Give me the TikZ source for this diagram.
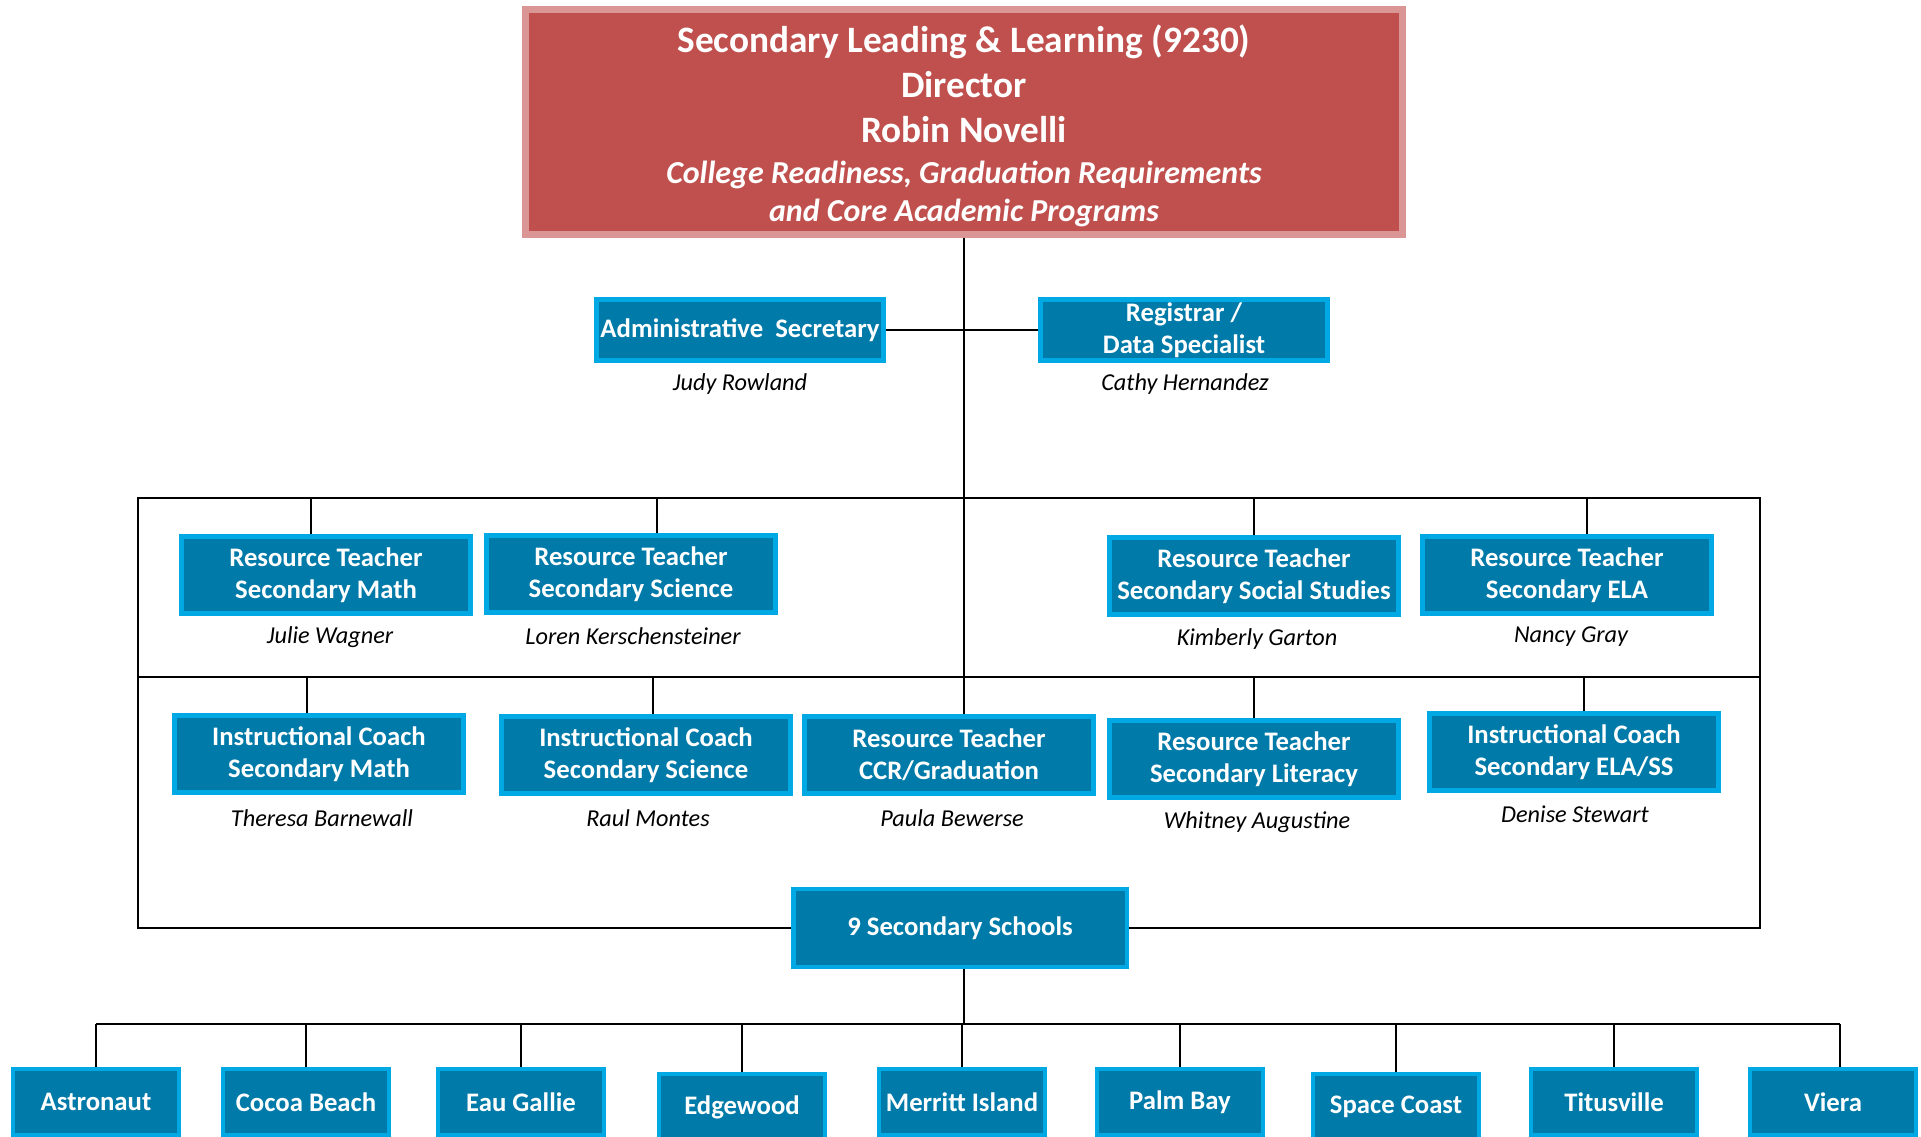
\documentclass[tikz,border=0pt]{standalone}
\usepackage{fontspec}
\setmainfont{Carlito}
\definecolor{dirred}{HTML}{C0504D}
\definecolor{dirrim}{HTML}{D99694}
\definecolor{rolefill}{HTML}{007AA8}
\definecolor{rolerim}{HTML}{00A8E4}
\begin{document}
\begin{tikzpicture}[x=0.01cm, y=-0.01cm,
  dirbox/.style={draw=dirrim, fill=dirred, line width=2pt, rectangle, minimum width=8.77cm,
                 minimum height=2.24cm, inner sep=0pt},
  dirtext/.style={align=center, text=white, inner sep=0pt,
                  font=\bfseries\fontsize{10.6}{12.8}\selectfont},
  rolebox/.style={draw=rolerim, fill=rolefill, line width=1.2pt, rectangle, minimum width=2.89cm,
                  minimum height=0.77cm, align=center, text=white, inner sep=0pt,
                  font=\bfseries\fontsize{7.6}{9.1}\selectfont},
  staffbox/.style={rolebox, minimum width=2.87cm, minimum height=0.61cm},
  hubbox/.style={rolebox, minimum width=3.33cm, minimum height=0.78cm},
  schoolbox/.style={rolebox, minimum width=1.66cm, minimum height=0.66cm},
  person/.style={font=\itshape\fontsize{6.9}{8.5}\selectfont},
  orgline/.style={-, line width=0.8pt, black}
]
\useasboundingbox (0,0) rectangle (1921,1137);

\node[dirbox] (dir) at (964,122) {};
\node[dirtext] (dirtitle) at (964,126) {Secondary Leading \& Learning (9230)\\ Director\\ Robin Novelli\\[-1pt]
  {\itshape\fontsize{9.1}{11}\selectfont College Readiness, Graduation Requirements}\\[-2pt]
  {\itshape\fontsize{9.1}{11}\selectfont and Core Academic Programs}};

\node[staffbox] (sec) at (740,330) {Administrative\ \ Secretary};
\node[staffbox] (reg) at (1184,330) {Registrar /\\ Data Specialist};
\node[person] (judy) at (740,384) {Judy Rowland};
\node[person] (cathy) at (1185,384) {Cathy Hernandez};

\coordinate (ftl) at (138,498);
\coordinate (ftr) at (1760,498);
\coordinate (fml) at (138,677);
\coordinate (fmr) at (1760,677);

\node[rolebox] (rtmath) at (326,575) {Resource Teacher\\ Secondary Math};
\node[rolebox] (rtsci) at (631,574) {Resource Teacher\\ Secondary Science};
\node[rolebox] (rtss) at (1254,576) {Resource Teacher\\ Secondary Social Studies};
\node[rolebox] (rtela) at (1567,575) {Resource Teacher\\ Secondary ELA};
\node[person] (julie) at (330,637) {Julie Wagner};
\node[person] (loren) at (633,636) {Loren Kerschensteiner};
\node[person] (kimberly) at (1257,639) {Kimberly Garton};
\node[person] (nancy) at (1571,637) {Nancy Gray};

\node[rolebox] (icmath) at (319,754) {Instructional Coach\\ Secondary Math};
\node[rolebox] (icsci) at (646,755) {Instructional Coach\\ Secondary Science};
\node[rolebox] (ccr) at (949,755) {Resource Teacher\\ CCR/Graduation};
\node[rolebox] (rtlit) at (1254,759) {Resource Teacher\\ Secondary Literacy};
\node[rolebox] (icela) at (1574,752) {Instructional Coach\\ Secondary ELA/SS};
\node[person] (theresa) at (322,818) {Theresa Barnewall};
\node[person] (raul) at (648,818) {Raul Montes};
\node[person] (paula) at (952,818) {Paula Bewerse};
\node[person] (whitney) at (1257,822) {Whitney Augustine};
\node[person] (denise) at (1575,814) {Denise Stewart};

\node[hubbox] (hub) at (960,928) {9 Secondary Schools};
\coordinate (bus) at (964,1024);

\node[schoolbox] (astronaut) at (96,1102) {Astronaut};
\node[schoolbox] (cocoa) at (306,1102) {Cocoa Beach};
\node[schoolbox] (eaugallie) at (521,1102) {Eau Gallie};
\node[schoolbox] (edgewood) at (742,1107) {Edgewood};
\node[schoolbox] (merritt) at (962,1102) {Merritt Island};
\node[schoolbox] (palmbay) at (1180,1102) {Palm Bay};
\node[schoolbox] (spacecoast) at (1396,1107) {Space Coast};
\node[schoolbox] (titusville) at (1614,1102) {Titusville};
\node[schoolbox] (viera) at (1833,1102) {Viera};

% director and staff
\draw[orgline] (dir.south) -- (dir.south |- ccr.north);
\draw[orgline] (sec.east) -- (reg.west);

% frame round the teachers and coaches
\draw[orgline] (hub.west) -| (ftl) -- (ftr) |- (hub.east);
\draw[orgline] (fml) -- (fmr);

\draw[orgline] ([xshift=-0.15cm]rtmath.north) -- ([xshift=-0.15cm]rtmath.north |- ftl);
\draw[orgline] ([xshift=0.26cm]rtsci.north) -- ([xshift=0.26cm]rtsci.north |- ftl);
\draw[orgline] (rtss.north) -- (rtss.north |- ftl);
\draw[orgline] ([xshift=0.2cm]rtela.north) -- ([xshift=0.2cm]rtela.north |- ftl);

\draw[orgline] ([xshift=-0.12cm]icmath.north) -- ([xshift=-0.12cm]icmath.north |- fml);
\draw[orgline] ([xshift=0.07cm]icsci.north) -- ([xshift=0.07cm]icsci.north |- fml);
\draw[orgline] (rtlit.north) -- (rtlit.north |- fml);
\draw[orgline] ([xshift=0.1cm]icela.north) -- ([xshift=0.1cm]icela.north |- fml);

% schools
\draw[orgline] (hub.south -| bus) -- (bus);
\draw[orgline] (astronaut.north |- bus) -- ([xshift=0.07cm]viera.north |- bus);
\draw[orgline] (astronaut.north) -- (astronaut.north |- bus);
\draw[orgline] (cocoa.north) -- (cocoa.north |- bus);
\draw[orgline] (eaugallie.north) -- (eaugallie.north |- bus);
\draw[orgline] (edgewood.north) -- (edgewood.north |- bus);
\draw[orgline] (merritt.north) -- (merritt.north |- bus);
\draw[orgline] (palmbay.north) -- (palmbay.north |- bus);
\draw[orgline] (spacecoast.north) -- (spacecoast.north |- bus);
\draw[orgline] (titusville.north) -- (titusville.north |- bus);
\draw[orgline] ([xshift=0.07cm]viera.north) -- ([xshift=0.07cm]viera.north |- bus);
\end{tikzpicture}
\end{document}
